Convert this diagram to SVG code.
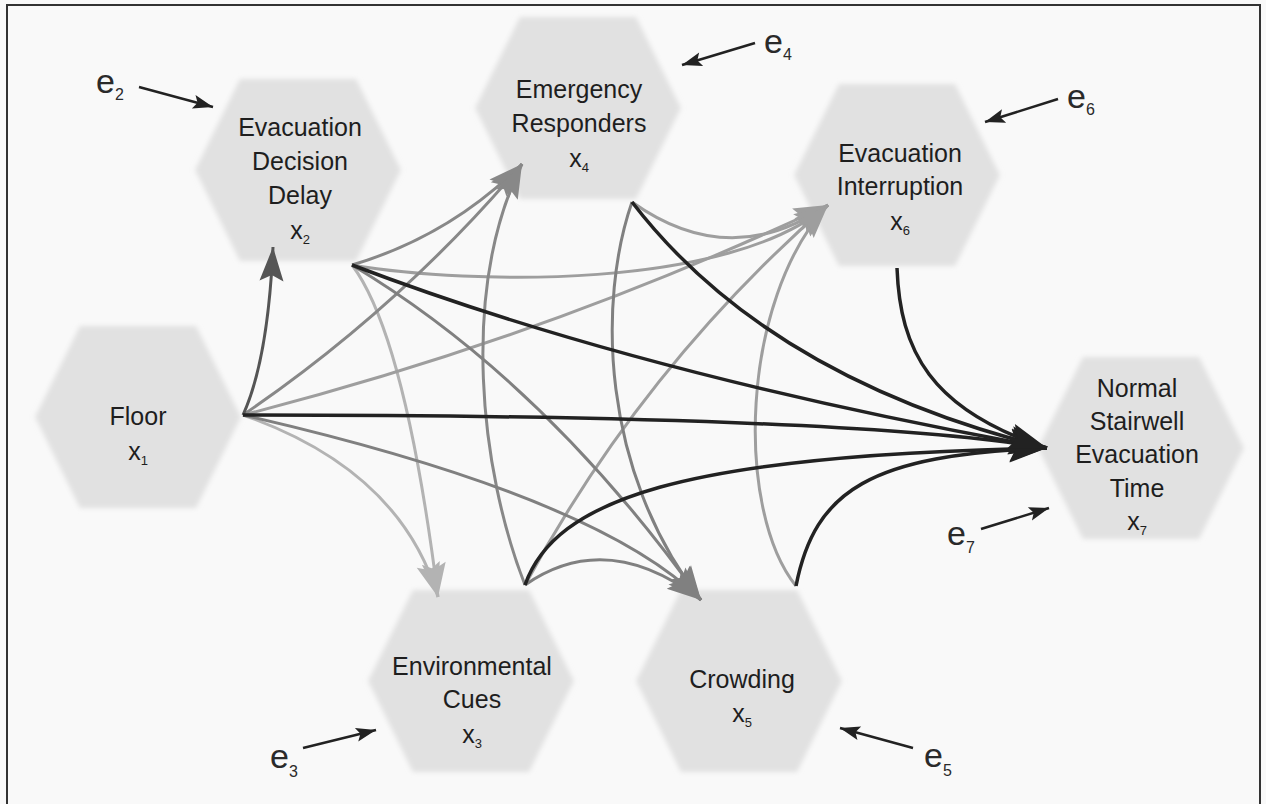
<svg xmlns="http://www.w3.org/2000/svg" width="1266" height="804" viewBox="0 0 1266 804">
<style>
.hex{fill:#e1e1e1;filter:url(#soft)}
.t{font-family:"Liberation Sans",Arial,sans-serif;font-size:25px;fill:#1e1e1e;text-anchor:middle}
.sub{font-size:13px}
.e{font-family:"Liberation Sans",Arial,sans-serif;font-size:34px;fill:#2a2a2a}
.es{font-size:16px}
.c{fill:none;stroke-width:3}
.c2{stroke:#555;marker-end:url(#m2)}
.c3{stroke:#b3b3b3;marker-end:url(#m3)}
.c4{stroke:#888;marker-end:url(#m4)}
.c5{stroke:#808080;marker-end:url(#m5)}
.c6{stroke:#9e9e9e;marker-end:url(#m6)}
.c7{stroke:#222;stroke-width:3.5;marker-end:url(#m7)}
.ea{fill:none;stroke:#222;stroke-width:2.5;marker-end:url(#me)}
</style>
<defs>
<filter id="soft" x="-10%" y="-10%" width="120%" height="120%"><feGaussianBlur stdDeviation="2.5"/></filter>
<marker id="m2" viewBox="-36 -15 40 30" refX="0" refY="0" markerWidth="40" markerHeight="30" markerUnits="userSpaceOnUse" orient="auto"><path d="M0,0 L-34,-12 L-28,0 L-34,12 Z" fill="#555"/></marker>
<marker id="m3" viewBox="-36 -15 40 30" refX="0" refY="0" markerWidth="40" markerHeight="30" markerUnits="userSpaceOnUse" orient="auto"><path d="M0,0 L-34,-12 L-28,0 L-34,12 Z" fill="#b3b3b3"/></marker>
<marker id="m4" viewBox="-36 -15 40 30" refX="0" refY="0" markerWidth="40" markerHeight="30" markerUnits="userSpaceOnUse" orient="auto"><path d="M0,0 L-34,-12 L-28,0 L-34,12 Z" fill="#888"/></marker>
<marker id="m5" viewBox="-36 -15 40 30" refX="0" refY="0" markerWidth="40" markerHeight="30" markerUnits="userSpaceOnUse" orient="auto"><path d="M0,0 L-34,-12 L-28,0 L-34,12 Z" fill="#808080"/></marker>
<marker id="m6" viewBox="-36 -15 40 30" refX="0" refY="0" markerWidth="40" markerHeight="30" markerUnits="userSpaceOnUse" orient="auto"><path d="M0,0 L-34,-12 L-28,0 L-34,12 Z" fill="#9e9e9e"/></marker>
<marker id="m7" viewBox="-40 -16 44 32" refX="0" refY="0" markerWidth="44" markerHeight="32" markerUnits="userSpaceOnUse" orient="auto"><path d="M0,0 L-38,-13 L-31,0 L-38,13 Z" fill="#222"/></marker>
<marker id="me" viewBox="-22 -10 24 20" refX="0" refY="0" markerWidth="24" markerHeight="20" markerUnits="userSpaceOnUse" orient="auto"><path d="M0,0 L-20,-7 L-16,0 L-20,7 Z" fill="#222"/></marker>
</defs>
<rect x="0" y="0" width="1266" height="804" fill="#f9f9f9"/>
<path d="M7,804 V5 H1260 V804" fill="none" stroke="#333" stroke-width="2"/>

<g id="x1">
<polygon class="hex" points="35,417 80,326 196,326 241,417 196,508 80,508"/>
<text class="t" x="138" y="425">Floor</text>
<text class="t" x="138" y="460">x<tspan class="sub" dy="5">1</tspan></text>
</g>
<g id="x2">
<polygon class="hex" points="195,170 240,79 356,79 401,170 356,261 240,261"/>
<text class="t" x="300" y="136">Evacuation</text>
<text class="t" x="300" y="170">Decision</text>
<text class="t" x="300" y="204">Delay</text>
<text class="t" x="300" y="239">x<tspan class="sub" dy="5">2</tspan></text>
</g>
<g id="x4">
<polygon class="hex" points="475,108 520,17 636,17 681,108 636,199 520,199"/>
<text class="t" x="579" y="98">Emergency</text>
<text class="t" x="579" y="132">Responders</text>
<text class="t" x="579" y="167">x<tspan class="sub" dy="5">4</tspan></text>
</g>
<g id="x6">
<polygon class="hex" points="794,175 839,84 955,84 1000,175 955,266 839,266"/>
<text class="t" x="900" y="162">Evacuation</text>
<text class="t" x="900" y="195">Interruption</text>
<text class="t" x="900" y="230">x<tspan class="sub" dy="5">6</tspan></text>
</g>
<g id="x7">
<polygon class="hex" points="1038,448 1083,357 1199,357 1244,448 1199,539 1083,539"/>
<text class="t" x="1137" y="397">Normal</text>
<text class="t" x="1137" y="430">Stairwell</text>
<text class="t" x="1137" y="463">Evacuation</text>
<text class="t" x="1137" y="497">Time</text>
<text class="t" x="1137" y="530">x<tspan class="sub" dy="5">7</tspan></text>
</g>
<g id="x3">
<polygon class="hex" points="368,681 413,590 529,590 574,681 529,772 413,772"/>
<text class="t" x="472" y="675">Environmental</text>
<text class="t" x="472" y="708">Cues</text>
<text class="t" x="472" y="743">x<tspan class="sub" dy="5">3</tspan></text>
</g>
<g id="x5">
<polygon class="hex" points="636,681 681,590 797,590 842,681 797,772 681,772"/>
<text class="t" x="742" y="688">Crowding</text>
<text class="t" x="742" y="722">x<tspan class="sub" dy="5">5</tspan></text>
</g>

<g id="errors">
<text class="e" x="96" y="93">e<tspan class="es" dy="7">2</tspan></text>
<text class="e" x="764" y="53">e<tspan class="es" dy="7">4</tspan></text>
<text class="e" x="1067" y="108">e<tspan class="es" dy="7">6</tspan></text>
<text class="e" x="947" y="545">e<tspan class="es" dy="8">7</tspan></text>
<text class="e" x="270" y="768">e<tspan class="es" dy="9">3</tspan></text>
<text class="e" x="924" y="767">e<tspan class="es" dy="9">5</tspan></text>
</g>

<g id="connectors">
<path class="ea" d="M139,87 L213,107"/>
<path class="ea" d="M755,43 L682,65"/>
<path class="ea" d="M1058,99 L985,122"/>
<path class="ea" d="M981,529 L1049,508"/>
<path class="ea" d="M303,748 L376,730"/>
<path class="ea" d="M913,748 L840,728"/>

<path class="c c3" d="M243,415 Q400,470 438,597"/>
<path class="c c3" d="M352,265 Q405,335 438,597"/>
<path class="c c6" d="M243,415 Q545,338 828,205"/>
<path class="c c6" d="M352,265 C470,285 730,290 828,205"/>
<path class="c c6" d="M525,585 Q642,368 828,205"/>
<path class="c c6" d="M632,202 Q730,272 828,205"/>
<path class="c c6" d="M796,586 C735,510 740,300 828,205"/>
<path class="c c4" d="M243,415 Q400,308 522,164"/>
<path class="c c4" d="M352,265 Q450,236 522,164"/>
<path class="c c4" d="M525,585 C480,470 460,290 522,164"/>
<path class="c c5" d="M243,415 Q597,496 701,600"/>
<path class="c c5" d="M352,265 Q544,380 701,600"/>
<path class="c c5" d="M525,585 Q607,528 701,600"/>
<path class="c c5" d="M632,202 C598,300 600,470 701,600"/>
<path class="c c2" d="M243,415 Q268,360 273,247"/>
<path class="c c7" d="M243,415 Q850,415 1047,448"/>
<path class="c c7" d="M352,265 Q641,375 1047,448"/>
<path class="c c7" d="M525,585 C555,500 680,455 1047,448"/>
<path class="c c7" d="M632,202 Q767,378 1047,448"/>
<path class="c c7" d="M796,586 C815,490 870,455 1047,448"/>
<path class="c c7" d="M897,268 C900,350 930,410 1047,448"/>
</g>
</svg>
